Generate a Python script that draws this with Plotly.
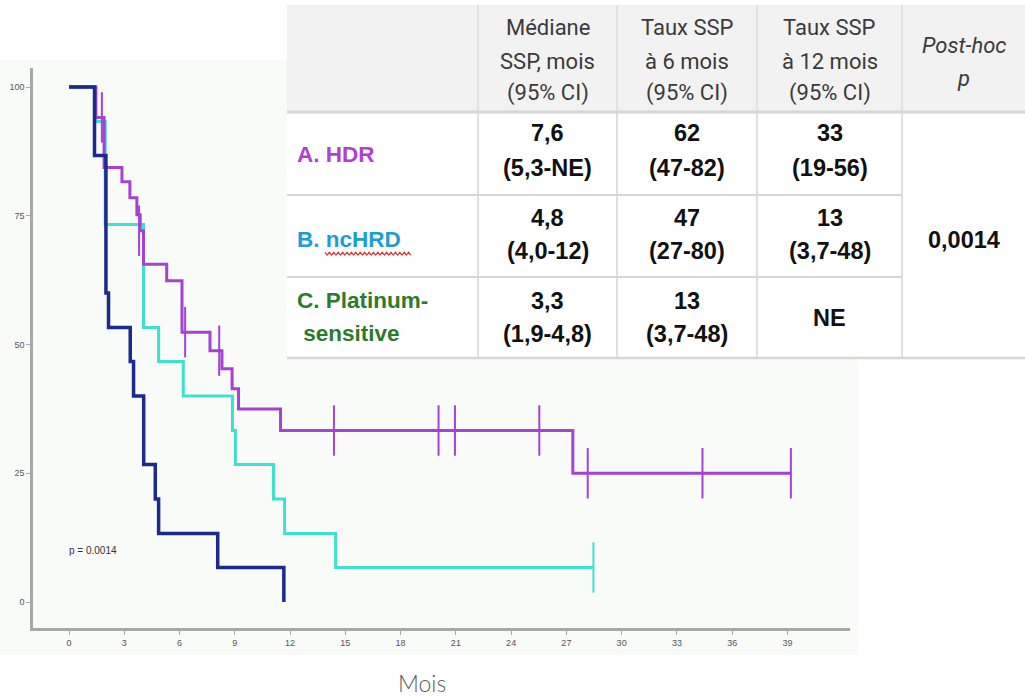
import plotly.graph_objects as go

W, H = 1025, 698

# ---------------- Data ----------------
# Kaplan-Meier curves: time in months, survival in %
hdr_t = [0, 1.45, 1.9, 2.87, 3.3, 3.68, 3.86, 4.04, 5.3, 6.13, 7.65, 8.3, 8.85, 9.2, 11.48, 27.35, 39.19]
hdr_s = [100, 94.1, 84.4, 81.6, 78.5, 75.2, 72.1, 65.6, 62.4, 52.4, 48.8, 45.3, 41.4, 37.5, 33.3, 25.0, 25.0]
hdr_cens_t = [1.78, 3.8, 6.3, 8.15, 14.38, 20.06, 20.95, 25.53, 28.16, 34.39, 39.19]
hdr_cens_s = [94.1, 72.1, 52.4, 48.8, 33.3, 33.3, 33.3, 33.3, 25.0, 25.0, 25.0]

nc_t = [0, 1.45, 1.96, 4.04, 4.86, 6.2, 8.87, 9.03, 11.1, 11.7, 14.47, 28.47]
nc_s = [100, 93.3, 73.3, 53.3, 46.7, 40.0, 33.3, 26.7, 20.0, 13.3, 6.7, 6.7]
nc_cens_t = [28.47]
nc_cens_s = [6.7]

pt_t = [0, 1.38, 2.0, 2.14, 3.32, 3.5, 4.05, 4.68, 4.86, 8.07, 11.66]
pt_s = [100, 86.7, 60.0, 53.3, 46.7, 40.0, 26.7, 20.0, 13.3, 6.7, 0]

x_ticks = list(range(0, 40, 3))
y_ticks = [0, 25, 50, 75, 100]
y_ticktext = ["0", "25", "50", "75", "100"]

# Table content
header_cells = ["Médiane<br>SSP, mois<br>(95% CI)", "Taux SSP<br>à 6 mois<br>(95% CI)",
                "Taux SSP<br>à 12 mois<br>(95% CI)", "<i>Post-hoc</i><br><i>p</i>"]
group_labels = ["A. HDR", "B. ncHRD", "C. Platinum-<br> sensitive"]
median_pfs = ["7,6<br>(5,3-NE)", "4,8<br>(4,0-12)", "3,3<br>(1,9-4,8)"]
pfs_6m = ["62<br>(47-82)", "47<br>(27-80)", "13<br>(3,7-48)"]
pfs_12m = ["33<br>(19-56)", "13<br>(3,7-48)", "NE"]
posthoc_p = "0,0014"

# ---------------- Styles ----------------
C_HDR = "#a542d4"
C_NC = "#3fe0cf"
C_PT = "#1c2a8c"
LBL_COLORS = ["#b13fd6", "#1e9cd8", "#2b7a2e"]


def px(x):
    return x / W


def py(y):
    return 1 - y / H


fig = go.Figure()

fig.add_trace(go.Scatter(x=nc_t, y=nc_s, mode="lines", line=dict(color=C_NC, width=3, shape="hv"),
                         showlegend=False, hoverinfo="skip"))
fig.add_trace(go.Scatter(x=nc_cens_t, y=nc_cens_s, mode="markers",
                         marker=dict(symbol="line-ns", size=36, line=dict(color=C_NC, width=2)),
                         showlegend=False, hoverinfo="skip"))
fig.add_trace(go.Scatter(x=hdr_t, y=hdr_s, mode="lines", line=dict(color=C_HDR, width=3, shape="hv"),
                         showlegend=False, hoverinfo="skip"))
fig.add_trace(go.Scatter(x=hdr_cens_t, y=hdr_cens_s, mode="markers",
                         marker=dict(symbol="line-ns", size=36, line=dict(color=C_HDR, width=2)),
                         showlegend=False, hoverinfo="skip"))
fig.add_trace(go.Scatter(x=pt_t, y=pt_s, mode="lines", line=dict(color=C_PT, width=3.5, shape="hv"),
                         showlegend=False, hoverinfo="skip"))

shapes = []
# light panel of the plot screenshot
shapes.append(dict(type="rect", xref="paper", yref="paper", x0=px(0), x1=px(858), y0=py(655), y1=py(60),
                   fillcolor="#f9fbf9", line=dict(width=0), layer="below"))

# table
T_L, T_R, T_TOP, T_HB, T_R1, T_R2, T_BOT = 287, 1025, 5, 112, 195, 277, 358
COLS = [287, 478, 617, 757, 902, 1025]
shapes.append(dict(type="rect", xref="paper", yref="paper", x0=px(T_L), x1=px(T_R), y0=py(T_BOT), y1=py(T_TOP),
                   fillcolor="white", line=dict(width=0), layer="above"))
shapes.append(dict(type="rect", xref="paper", yref="paper", x0=px(T_L), x1=px(T_R), y0=py(T_HB), y1=py(T_TOP),
                   fillcolor="#f2f2f2", line=dict(width=0), layer="above"))


def hline(y, x0, x1, color, w):
    shapes.append(dict(type="line", xref="paper", yref="paper", x0=px(x0), x1=px(x1), y0=py(y), y1=py(y),
                       line=dict(color=color, width=w), layer="above"))


def vline(x, y0, y1, color, w):
    shapes.append(dict(type="line", xref="paper", yref="paper", x0=px(x), x1=px(x), y0=py(y0), y1=py(y1),
                       line=dict(color=color, width=w), layer="above"))


for cx in COLS[1:-1]:
    vline(cx, T_TOP, T_HB, "#e2e2e2", 2)
    vline(cx, T_HB, T_BOT, "#e0e0e0", 2)
hline(T_HB, T_L, T_R, "#d6d6d6", 3)
hline(T_R1, T_L, COLS[4], "#d6d6d6", 2)
hline(T_R2, T_L, COLS[4], "#d6d6d6", 2)
hline(T_BOT, T_L, T_R, "#d6d6d6", 2.5)

# red spell-check squiggle under "ncHRD"
sq_pts = []
xx = 325
k = 0
while xx <= 412:
    sq_pts.append((xx, 253.5 + (1.6 if k % 2 else -1.2)))
    xx += 2.2
    k += 1
path = "M " + " L ".join(f"{px(a):.5f},{py(b):.5f}" for a, b in sq_pts)
shapes.append(dict(type="path", xref="paper", yref="paper", path=path,
                   line=dict(color="#e8312f", width=1.2), layer="above"))

annotations = []


def text_lines(cell, cx, ys, size, color, bold=False, family="Liberation Sans", xanchor="center"):
    parts = cell.split("<br>")
    for part, yy in zip(parts, ys):
        t = f"<b>{part}</b>" if bold else part
        annotations.append(dict(x=px(cx), y=py(yy), xref="paper", yref="paper", text=t, showarrow=False,
                                xanchor=xanchor, yanchor="middle",
                                font=dict(family=family, size=size, color=color)))


HDR_FONT = "Roboto, sans-serif"
col_centers = [(COLS[i] + COLS[i + 1]) / 2 for i in range(1, 5)]
for i, cell in enumerate(header_cells):
    ys = [27, 61, 93] if i < 3 else [46, 78]
    text_lines(cell, col_centers[i], ys, 22, "#3a3a3a", family=HDR_FONT)

VAL_SIZE = 23.5
row_val_ys = [(133, 168), (218, 251), (301, 334)]
for r in range(3):
    text_lines(median_pfs[r], col_centers[0], row_val_ys[r], VAL_SIZE, "#111111", bold=True)
    text_lines(pfs_6m[r], col_centers[1], row_val_ys[r], VAL_SIZE, "#111111", bold=True)
    if "<br>" in pfs_12m[r]:
        text_lines(pfs_12m[r], col_centers[2], row_val_ys[r], VAL_SIZE, "#111111", bold=True)
    else:
        text_lines(pfs_12m[r], col_centers[2], [318], VAL_SIZE, "#111111", bold=True)
text_lines(posthoc_p, col_centers[3], [240], VAL_SIZE, "#111111", bold=True)

label_ys = [[154], [240], [300, 333]]
for r in range(3):
    parts = group_labels[r].split("<br>")
    for part, yy in zip(parts, label_ys[r]):
        annotations.append(dict(x=px(295), y=py(yy), xref="paper", yref="paper", text=f"<b>{part}</b>",
                                showarrow=False, xanchor="left", yanchor="middle",
                                font=dict(family="Liberation Sans", size=22.5, color=LBL_COLORS[r])))

# p-value in plot
annotations.append(dict(x=-0.1, y=10, xref="x", yref="y", text="p = 0.0014", showarrow=False,
                        xanchor="left", yanchor="middle", font=dict(family="Liberation Sans", size=10, color="#333")))
# axis title
annotations.append(dict(x=px(422), y=py(683), xref="paper", yref="paper", text="Mois", showarrow=False,
                        xanchor="center", yanchor="middle",
                        font=dict(family="Lato", size=23, color="#5a5a5a", weight=300)))

fig.update_layout(
    width=W, height=H,
    margin=dict(l=0, r=0, t=0, b=0),
    paper_bgcolor="white",
    plot_bgcolor="rgba(0,0,0,0)",
    shapes=shapes,
    annotations=annotations,
    xaxis=dict(domain=[px(33), px(850)], range=[-1.96, 42.4], tickvals=x_ticks,
               showgrid=False, zeroline=False, showline=True, linecolor="#a8a8a8", linewidth=2.5,
               ticks="outside", ticklen=4, tickcolor="#a8a8a8", tickwidth=1,
               tickfont=dict(family="Liberation Sans", size=9, color="#555")),
    yaxis=dict(domain=[py(628), py(68)], range=[-5.05, 103.7], tickvals=y_ticks, ticktext=y_ticktext,
               showgrid=False, zeroline=False, showline=True, linecolor="#a8a8a8", linewidth=2.5,
               ticks="outside", ticklen=4, tickcolor="#a8a8a8", tickwidth=1,
               tickfont=dict(family="Liberation Sans", size=9, color="#555")),
)

fig.write_html("out.html", config={"displayModeBar": False},
               post_script="document.body.style.margin='0';document.body.style.overflow='hidden';")
